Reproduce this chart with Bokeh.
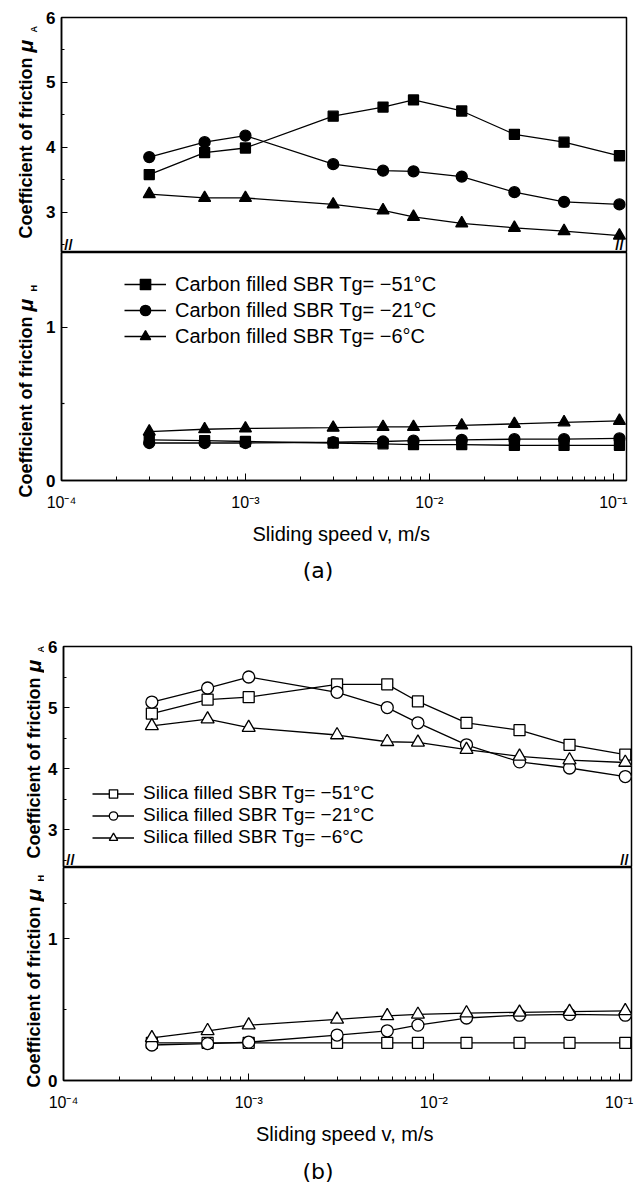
import numpy as np
from bokeh.plotting import figure
from bokeh.models import (Range1d, FixedTicker, CustomJSTickFormatter, Label,
                          Legend, LegendItem, Div)
from bokeh.layouts import column, row
from bokeh.embed import file_html
from bokeh.resources import INLINE

# ---------------- data ----------------
speed = [3e-4, 6e-4, 1e-3, 3e-3, 5.6e-3, 8.2e-3, 1.5e-2, 2.9e-2, 5.4e-2, 0.108]

carbon_muA_m51 = [3.58, 3.92, 3.99, 4.48, 4.62, 4.73, 4.56, 4.20, 4.08, 3.87]
carbon_muA_m21 = [3.85, 4.08, 4.18, 3.74, 3.64, 3.63, 3.55, 3.31, 3.16, 3.12]
carbon_muA_m6 = [3.28, 3.22, 3.22, 3.12, 3.03, 2.93, 2.83, 2.76, 2.71, 2.64]

carbon_muH_m51 = [0.265, 0.26, 0.255, 0.245, 0.24, 0.235, 0.235, 0.23, 0.23, 0.23]
carbon_muH_m21 = [0.245, 0.245, 0.245, 0.25, 0.255, 0.26, 0.265, 0.27, 0.27, 0.275]
carbon_muH_m6 = [0.32, 0.335, 0.34, 0.345, 0.35, 0.35, 0.36, 0.37, 0.38, 0.39]

silica_muA_m51 = [4.90, 5.13, 5.17, 5.38, 5.38, 5.10, 4.75, 4.63, 4.39, 4.23]
silica_muA_m21 = [5.09, 5.32, 5.50, 5.25, 5.00, 4.75, 4.39, 4.11, 4.01, 3.87]
silica_muA_m6 = [4.70, 4.81, 4.67, 4.55, 4.44, 4.43, 4.31, 4.20, 4.14, 4.10]

silica_muH_m51 = [0.265, 0.265, 0.265, 0.265, 0.265, 0.265, 0.265, 0.265, 0.265, 0.265]
silica_muH_m21 = [0.25, 0.26, 0.27, 0.32, 0.35, 0.39, 0.44, 0.46, 0.465, 0.46]
silica_muH_m6 = [0.30, 0.35, 0.39, 0.43, 0.455, 0.465, 0.475, 0.48, 0.485, 0.49]

carbon_labels = ["Carbon filled SBR Tg= \u221251\u00b0C",
                 "Carbon filled SBR Tg= \u221221\u00b0C",
                 "Carbon filled SBR Tg= \u22126\u00b0C"]
silica_labels = ["Silica filled SBR Tg= \u221251\u00b0C",
                 "Silica filled SBR Tg= \u221221\u00b0C",
                 "Silica filled SBR Tg= \u22126\u00b0C"]

x_major = [1e-4, 1e-3, 1e-2, 1e-1]
x_minor = [m * 10.0 ** e for e in range(-4, -1) for m in range(2, 10)]
muA_ticks = [3, 4, 5, 6]
muA_minor = [2.5, 3.5, 4.5, 5.5]
muH_ticks = [0, 1]

FONT = "Liberation Sans"
markers = ["square", "circle", "triangle"]

xfmt = CustomJSTickFormatter(code="""
const e = Math.round(Math.log10(tick));
const sup = {"-":"\u207b","0":"\u2070","1":"\u00b9","2":"\u00b2","3":"\u00b3","4":"\u2074",
             "5":"\u2075","6":"\u2076","7":"\u2077","8":"\u2078","9":"\u2079"};
return "10" + String(e).split("").map(c => sup[c]).join("");
""")


def style_y(p, ticks, minor):
    ax = p.yaxis[0]
    ax.ticker = FixedTicker(ticks=ticks, minor_ticks=minor)
    ax.major_tick_in = 6
    ax.major_tick_out = 0
    ax.minor_tick_in = 3
    ax.minor_tick_out = 0
    ax.major_label_standoff = 6
    ax.major_label_text_font = FONT
    ax.major_label_text_font_style = "bold"
    ax.major_label_text_font_size = "17px"
    ax.major_label_text_color = "black"
    ax.axis_line_width = 1.5
    ax.major_tick_line_width = 1.2
    ax.minor_tick_line_width = 1.2


def base_fig(w, h, xr, yr, bl, br, bt, bb, xaxis):
    p = figure(width=w, height=h, x_axis_type="log", x_range=xr, y_range=yr,
               output_backend="svg", toolbar_location=None,
               min_border_left=bl, min_border_right=br, min_border_top=bt,
               min_border_bottom=bb, x_axis_location=("below" if xaxis else None))
    p.grid.visible = False
    p.outline_line_color = "black"
    p.outline_line_width = 1.5
    p.background_fill_color = "white"
    p.border_fill_color = "white"
    return p


def style_x(p):
    ax = p.xaxis[0]
    ax.ticker = FixedTicker(ticks=x_major, minor_ticks=x_minor)
    ax.formatter = xfmt
    ax.major_tick_in = 7
    ax.major_tick_out = 0
    ax.minor_tick_in = 4
    ax.minor_tick_out = 0
    ax.major_label_standoff = 13
    ax.major_label_text_font = FONT
    ax.major_label_text_font_size = "16px"
    ax.major_label_text_color = "black"
    ax.axis_line_width = 1.5
    ax.axis_label = "Sliding speed  v, m/s"
    ax.axis_label_text_font = FONT
    ax.axis_label_text_font_size = "20px"
    ax.axis_label_text_font_style = "normal"
    ax.axis_label_text_color = "black"
    ax.axis_label_standoff = 9


def label_fig(w, h):
    # a narrow figure whose data units are page pixels (y grows downward)
    p = figure(width=w, height=h, x_range=Range1d(0, w), y_range=Range1d(h, 0),
               output_backend="svg", toolbar_location=None,
               x_axis_location=None, y_axis_location=None,
               min_border_left=0, min_border_right=0, min_border_top=0, min_border_bottom=0)
    p.grid.visible = False
    p.outline_line_color = None
    p.background_fill_color = "white"
    p.border_fill_color = "white"
    return p


def add_ylabel(p, sub, y0, xb, xsub):
    common = dict(angle=np.pi / 2, text_align="left", text_baseline="alphabetic",
                  text_font=FONT, text_color="black")
    p.add_layout(Label(x=xb, y=y0, text="Coefficient of friction",
                       text_font_size="18px", text_font_style="bold", **common))
    p.add_layout(Label(x=xb, y=y0 - 186, text="\u03bc",
                       text_font_size="21px", text_font_style="bold italic", **common))
    p.add_layout(Label(x=xsub, y=y0 - 206, text=sub,
                       text_font_size="9px", text_font_style="bold", **common))


def add_breaks(p, fw):
    for xx in (7, fw - 7):
        p.add_layout(Label(x=xx, y=8, x_units="screen", y_units="screen", text="//",
                           text_align="center", text_baseline="middle",
                           text_font=FONT, text_font_size="15px",
                           text_font_style="bold", text_color="black"))


def draw(p, ys, filled, sizes):
    rs = []
    for y, mk, sz in zip(ys, markers, sizes):
        l = p.line(speed, y, line_color="black", line_width=1.3)
        s = p.scatter(speed, y, marker=mk, size=sz, line_color="black", line_width=1.3,
                      fill_color=("black" if filled else "white"))
        rs.append([l, s])
    return rs


def make_legend(rs, labels, loc, fs, rowh):
    items = [LegendItem(label=lab, renderers=r) for lab, r in zip(labels, rs)]
    return Legend(items=items, location=loc, orientation="vertical",
                  glyph_width=42, glyph_height=rowh, label_height=rowh,
                  label_standoff=9, spacing=0, padding=0, margin=0,
                  border_line_color=None, background_fill_alpha=0,
                  label_text_font=FONT, label_text_font_size=fs,
                  label_text_color="black")


# ---------------- panel (a) ----------------
LA = 40
xr_a = Range1d(1e-4, 0.118)
a_top = base_fig(636 - LA, 252, xr_a, Range1d(2.38, 6.0), 61 - LA, 10, 17, 0, False)
style_y(a_top, muA_ticks, muA_minor)
draw(a_top, [carbon_muA_m51, carbon_muA_m21, carbon_muA_m6], True, [10, 11, 12])
add_breaks(a_top, 565)

a_bot = base_fig(636 - LA, 295, xr_a, Range1d(0, 1.49), 61 - LA, 10, 0, 66, True)
style_y(a_bot, muH_ticks, [0.5])
style_x(a_bot)
rs_a = draw(a_bot, [carbon_muH_m51, carbon_muH_m21, carbon_muH_m6], True, [10, 11, 12])
a_bot.add_layout(make_legend(rs_a, carbon_labels, (63, 131), "20px", 26))

lab_a = label_fig(LA, 547)
add_ylabel(lab_a, "A", 238, 25, 33)
add_ylabel(lab_a, "H", 497, 25, 33)

div_a = Div(text='<div style="width:576px;padding-left:60px;text-align:center;'
                 'font-family:DejaVu Sans;font-size:22px;line-height:48px;color:black">(a)</div>',
            width=636, height=53, margin=0)

# ---------------- panel (b) ----------------
LB = 44
xr_b = Range1d(1e-4, 0.1167)
b_top = base_fig(636 - LB, 267, xr_b, Range1d(2.38, 6.0), 63 - LB, 5, 46, 0, False)
style_y(b_top, muA_ticks, muA_minor)
rs_b = draw(b_top, [silica_muA_m51, silica_muA_m21, silica_muA_m6], False, [11, 12, 13])
b_top.add_layout(make_legend(rs_b, silica_labels, (29, 19), "19px", 21))
add_breaks(b_top, 568)

b_bot = base_fig(636 - LB, 280, xr_b, Range1d(0, 1.5), 63 - LB, 5, 0, 64, True)
style_y(b_bot, muH_ticks, [0.5, 1.25])
style_x(b_bot)
draw(b_bot, [silica_muH_m51, silica_muH_m21, silica_muH_m6], False, [11, 12, 13])

lab_b = label_fig(LB, 547)
add_ylabel(lab_b, "A", 858 - 600, 33, 40)
add_ylabel(lab_b, "H", 1087 - 600, 33, 40)

div_b = Div(text='<div style="width:576px;padding-left:60px;padding-top:15px;text-align:center;'
                 'font-family:DejaVu Sans;font-size:22px;line-height:20px;color:black">(b)</div>',
            width=636, height=36, margin=0)

layout = column(row(lab_a, column(a_top, a_bot, spacing=0), spacing=0),
                div_a,
                row(lab_b, column(b_top, b_bot, spacing=0), spacing=0),
                div_b, spacing=0)

open("out.html", "w").write(file_html(layout, INLINE))
